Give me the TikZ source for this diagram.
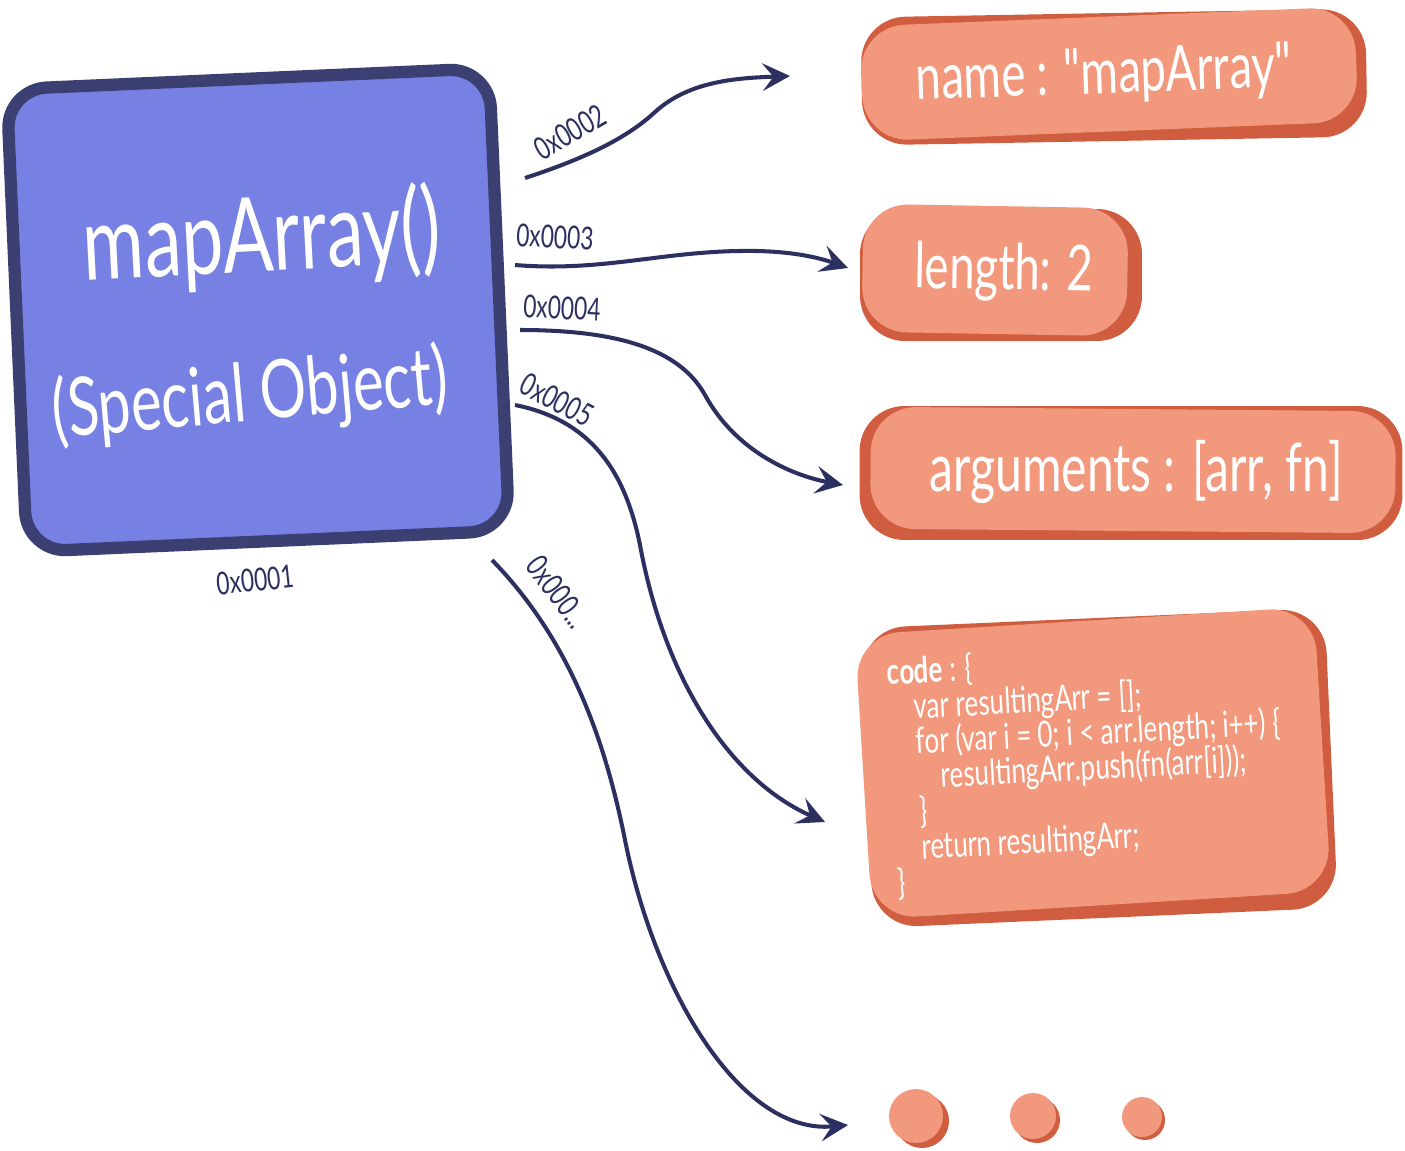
\documentclass[tikz,border=0pt]{standalone}
\usepackage{fontspec}
\newfontfamily\hand[FakeStretch=0.72]{Lato}
\usetikzlibrary{shapes,arrows,calc,positioning,arrows.meta}
\definecolor{objblue}{HTML}{7681E3}
\definecolor{objedge}{HTML}{3B3F72}
\definecolor{ink}{HTML}{2C3060}
\definecolor{salmon}{HTML}{F2997D}
\definecolor{rust}{HTML}{D05D3F}

\begin{document}
\begin{tikzpicture}[
    x=0.02cm,y=-0.02cm,
    >={Stealth[length=5.5mm,width=5.5mm,inset=2.2mm]},
    obj/.style={rectangle,rounded corners=0.8cm,draw=objedge,fill=objblue,line width=7pt,minimum width=9.66cm,minimum height=9.26cm},
    shade/.style={rectangle,rounded corners=0.9cm,fill=rust,inner sep=0pt},
    prop/.style={rectangle,rounded corners=0.9cm,fill=salmon,inner sep=0pt},
    word/.style={text=white,inner sep=0pt},
    addr/.style={text=ink,font=\hand\fontsize{18}{22}\selectfont,inner sep=0pt},
    ptr/.style={->,draw=ink,line width=2.3pt}]
    \useasboundingbox (0,0) rectangle (1405,1150);

    % the function object
    \node[obj,rotate=2.5] (fn) at (258,310) {};
    \node[word,font=\hand\fontsize{59}{62}\selectfont,rotate=3] (fnname) at (262,240) {mapArray()};
    \node[word,font=\hand\fontsize{46}{50}\selectfont,rotate=5] (fnkind) at (250,397) {(Special Object)};
    \node[addr,rotate=6] (a1) at (255,580) {0x0001};

    % properties
    \node[shade,minimum width=10.1cm,minimum height=2.56cm,rotate=1] (nmS) at (1114,77) {};
    \node[prop,minimum width=9.9cm,minimum height=2.3cm,rotate=2.3] (nm) at (1109,74) {};
    \node[word,font=\hand\fontsize{36}{38}\selectfont,rotate=2] (nmtxt) at (1104,76) {name : "mapArray"};

    \node[shade,minimum width=5.64cm,minimum height=2.64cm,rotate=0] (lenS) at (1001,275) {};
    \node[prop,minimum width=5.3cm,minimum height=2.56cm,rotate=-1] (len) at (995,270) {};
    \node[word,font=\hand\fontsize{36}{40}\selectfont,rotate=-1] (lentxt) at (1004,272) {length: 2};

    \node[shade,minimum width=10.86cm,minimum height=2.68cm,rotate=0] (argS) at (1131,473) {};
    \node[prop,minimum width=10.5cm,minimum height=2.44cm,rotate=-0.5] (arg) at (1133,470) {};
    \node[word,font=\hand\fontsize{38}{40}\selectfont] (argtxt) at (1136,472) {arguments : [arr, fn]};

    \node[shade,minimum width=9.3cm,minimum height=6.0cm,rotate=2.5] (codeS) at (1099,768) {};
    \node[prop,minimum width=9.2cm,minimum height=5.7cm,rotate=3.5] (code) at (1093,763) {};
    \node[word,align=left,anchor=north west,font=\hand\fontsize{20.5}{20}\selectfont,rotate=3] (codetxt) at (886,657) {%
      {\bfseries code} : \{\\
      \hspace*{0.7em}var resultingArr = [];\\
      \hspace*{0.7em}for (var i = 0; i < arr.length; i++) \{\\
      \hspace*{1.35em}resultingArr.push(fn(arr[i]));\\
      \hspace*{0.7em}\}\\
      \hspace*{0.7em}return resultingArr;\\
      \}};

    % more properties
    \node[circle,fill=rust,minimum size=1.08cm,inner sep=0pt] (d1S) at (922,1121) {};
    \node[circle,fill=salmon,minimum size=1.08cm,inner sep=0pt] (d1) at (916,1116) {};
    \node[circle,fill=rust,minimum size=0.92cm,inner sep=0pt] (d2S) at (1037,1120) {};
    \node[circle,fill=salmon,minimum size=0.92cm,inner sep=0pt] (d2) at (1033,1116) {};
    \node[circle,fill=rust,minimum size=0.8cm,inner sep=0pt] (d3S) at (1145,1120) {};
    \node[circle,fill=salmon,minimum size=0.8cm,inner sep=0pt] (d3) at (1142,1117) {};

    % pointers
    \coordinate (p2) at (525,178);
    \coordinate (q2) at (790,76);
    \coordinate (p3) at (515,265);
    \coordinate (q3) at (848,268);
    \coordinate (p4) at (520,330);
    \coordinate (q4) at (843,485);
    \coordinate (p5) at (515,405);
    \coordinate (q5) at (825,822);
    \coordinate (p6) at (492,560);
    \coordinate (q6) at (848,1125);

    \draw[ptr] (p2) .. controls (580,160) and (625,140) .. (655,112) .. controls (690,80) and (740,78) .. (q2);
    \draw[ptr] (p3) .. controls (600,272) and (660,252) .. (740,251) .. controls (790,250) and (820,258) .. (q3);
    \draw[ptr] (p4) .. controls (620,330) and (680,350) .. (705,395) .. controls (735,450) and (790,475) .. (q4);
    \draw[ptr] (p5) .. controls (590,420) and (625,470) .. (640,545) .. controls (665,680) and (730,780) .. (q5);
    \draw[ptr] (p6) .. controls (570,640) and (605,740) .. (625,840) .. controls (655,990) and (740,1135) .. (q6);

    \node[addr,rotate=30] (a2) at (570,132) {0x0002};
    \node[addr,rotate=-3] (a3) at (555,237) {0x0003};
    \node[addr,rotate=-3] (a4) at (562,308) {0x0004};
    \node[addr,rotate=-28] (a5) at (557,400) {0x0005};
    \node[addr,rotate=-53] (a6) at (558,592) {0x000...};
  \end{tikzpicture}
\end{document}
